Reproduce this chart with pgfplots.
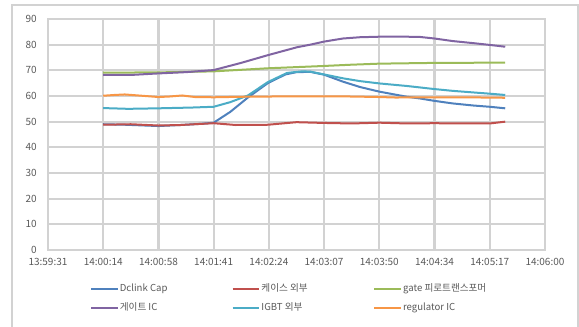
\documentclass[border=0pt]{standalone}
\usepackage{pgfplots}
\pgfplotsset{compat=1.18}
\usepackage{fontspec}
\setmainfont{Noto Sans CJK KR}
\definecolor{sDclink}{HTML}{4F81BD}
\definecolor{sCase}{HTML}{C0504D}
\definecolor{sGate}{HTML}{9BBB59}
\definecolor{sGateIC}{HTML}{8064A2}
\definecolor{sIGBT}{HTML}{4BACC6}
\definecolor{sReg}{HTML}{F79646}
\definecolor{txt}{HTML}{595959}
\definecolor{gridc}{HTML}{D2D2D2}
\begin{document}
\begin{tikzpicture}
\begin{axis}[
  at={(0pt,0pt)}, anchor=south west,
  scale only axis, width=372.75pt, height=173.25pt,
  xmin=0, xmax=9, ymin=0, ymax=90,
  xtick={0,...,9},
  xticklabels={13:59:31,14:00:14,14:00:58,14:01:41,14:02:24,14:03:07,14:03:50,14:04:34,14:05:17,14:06:00},
  ytick={0,10,...,90},
  grid=major,
  grid style={draw=gridc, line width=1.6pt},
  axis line style={draw=gridc, line width=1.6pt},
  tick style={draw=none},
  tick label style={font=\fontsize{7.5}{9}\selectfont, text=txt},
  /pgf/number format/assume math mode=true,
  xticklabel style={yshift=-3pt},
  yticklabel style={xshift=-5pt},
  clip=false,
  legend columns=3,
  legend style={at={(0.0845,-0.145)}, anchor=north west, draw=none, fill=none,
    inner sep=0pt, nodes={inner sep=0pt},
    font=\fontsize{7.2}{9}\selectfont, text=txt, row sep=7pt},
  legend cell align=left,
  legend image code/.code={\draw[#1, line width=1.2pt] (0pt,0pt) -- (20pt,0pt);},
]
\addplot[sDclink, line width=1.5pt, mark=none] coordinates {(1.0,49.0) (1.4,48.8) (2.0,48.3) (2.4,48.7) (2.8,49.2) (3.0,49.6) (3.3,53.8) (3.62,59.4) (3.98,65.0) (4.3,68.4) (4.5,69.3) (4.75,69.4) (5.0,68.3) (5.34,65.6) (5.65,63.5) (6.0,61.7) (6.5,59.7) (6.75,59.0) (7.0,58.1) (7.33,57.1) (7.7,56.3) (8.0,55.8) (8.28,55.2)};
\addlegendentry{\makebox[85pt][l]{\hspace{1pt}Dclink Cap}}
\addplot[sCase, line width=1.5pt, mark=none] coordinates {(1.0,48.8) (1.5,49.0) (2.0,48.5) (2.4,48.7) (3.0,49.4) (3.4,48.7) (3.98,48.8) (4.5,49.8) (5.0,49.5) (5.5,49.3) (6.0,49.6) (6.5,49.3) (7.0,49.4) (7.5,49.3) (8.0,49.3) (8.28,50.0)};
\addlegendentry{\makebox[85pt][l]{\hspace{1pt}케이스 외부}}
\addplot[sGate, line width=1.5pt, mark=none] coordinates {(1.0,69.1) (2.0,69.2) (3.0,69.6) (3.98,70.8) (4.89,71.6) (5.5,72.2) (6.0,72.6) (7.0,72.9) (8.28,73.0)};
\addlegendentry{\makebox[85pt][l]{\hspace{1pt}gate 피로트랜스포머}}
\addplot[sGateIC, line width=1.5pt, mark=none] coordinates {(1.0,68.2) (1.5,68.2) (2.0,68.8) (2.5,69.3) (3.0,70.1) (3.48,72.8) (3.98,75.9) (4.51,79.0) (4.75,80.0) (5.0,81.2) (5.34,82.4) (5.65,82.9) (6.0,83.1) (6.5,83.1) (6.74,83.0) (7.0,82.4) (7.33,81.4) (7.7,80.6) (8.0,79.9) (8.28,79.2)};
\addlegendentry{\makebox[85pt][l]{\hspace{1pt}게이트 IC}}
\addplot[sIGBT, line width=1.5pt, mark=none] coordinates {(1.0,55.3) (1.45,55.0) (2.0,55.2) (2.6,55.5) (3.0,55.8) (3.3,57.6) (3.62,60.2) (3.98,65.4) (4.33,69.0) (4.6,69.6) (4.75,69.5) (5.0,68.4) (5.34,66.9) (5.65,65.8) (6.0,64.9) (6.5,63.9) (7.0,62.7) (7.33,62.0) (8.0,60.9) (8.28,60.4)};
\addlegendentry{\makebox[85pt][l]{\hspace{1pt}IGBT 외부}}
\addplot[sReg, line width=1.5pt, mark=none] coordinates {(1.0,60.1) (1.2,60.4) (1.39,60.6) (1.7,60.1) (2.0,59.6) (2.2,59.8) (2.43,60.2) (2.66,59.6) (3.0,59.5) (3.5,59.7) (4.0,59.8) (5.0,59.9) (5.5,59.8) (6.0,59.6) (6.3,59.4) (6.6,59.5) (7.0,59.5) (8.0,59.4) (8.28,59.3)};
\addlegendentry{\makebox[85pt][l]{\hspace{1pt}regulator IC}}
\end{axis}
\path[use as bounding box] (-36pt,-57.75pt) rectangle (398.25pt,187.5pt);
\draw[gridc, line width=1pt] (-27pt,-58pt) -- (-27pt,183.75pt) -- (397.5pt,183.75pt) -- (397.5pt,-58pt);
\end{tikzpicture}
\end{document}
